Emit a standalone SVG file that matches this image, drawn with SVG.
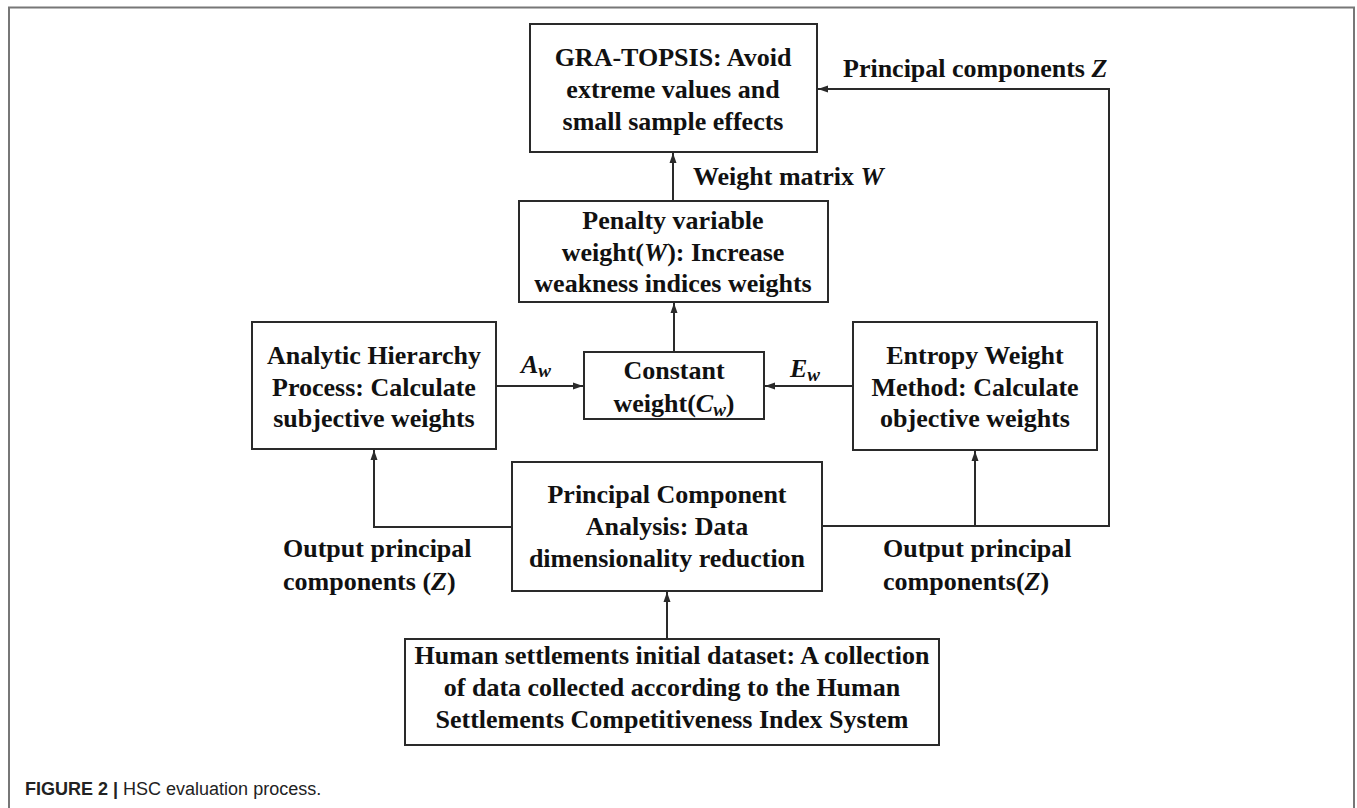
<svg xmlns="http://www.w3.org/2000/svg" width="1357" height="808" viewBox="0 0 1357 808">
<style>
.box{fill:#fff;stroke:#2a2a2a;stroke-width:2}
.t{font-family:"Liberation Serif","Times New Roman",serif;font-weight:bold;font-size:26px;fill:#111;text-anchor:middle}
.l{font-family:"Liberation Serif","Times New Roman",serif;font-weight:bold;font-size:26px;fill:#111}
.m{font-style:italic}
.sub{font-style:italic;font-size:19px}
.c{fill:none;stroke:#2a2a2a;stroke-width:2}
.frame{fill:none;stroke:#777;stroke-width:2}
.cap{font-family:"Liberation Sans",Arial,sans-serif;font-size:18px;fill:#222}
</style>
<defs>
<marker id="ah" markerUnits="userSpaceOnUse" markerWidth="10" markerHeight="10" viewBox="0 0 10 10" refX="10" refY="5" orient="auto">
<path d="M0,1.5 L10,5 L0,8.5 Z" fill="#2a2a2a"/>
</marker>
</defs>
<rect width="1357" height="808" fill="#fff"/>
<path class="frame" d="M9,808 V7.5 H1354 V808"/>

<g id="connectors">
<path class="c" d="M822,526 H1109 V89 H818" marker-end="url(#ah)"/>
<path class="c" d="M975,526 V451" marker-end="url(#ah)"/>
<path class="c" d="M512,527 H374 V450" marker-end="url(#ah)"/>
<path class="c" d="M667,639 V592" marker-end="url(#ah)"/>
<path class="c" d="M674,352 V303" marker-end="url(#ah)"/>
<path class="c" d="M673,201 V153" marker-end="url(#ah)"/>
<path class="c" d="M496,386 H583" marker-end="url(#ah)"/>
<path class="c" d="M853,386 H765" marker-end="url(#ah)"/>
</g>

<g id="gra">
<rect class="box" x="530" y="24" width="287" height="128"/>
<text class="t" x="673" y="66">GRA-TOPSIS: Avoid</text>
<text class="t" x="673" y="98">extreme values and</text>
<text class="t" x="673" y="130">small sample effects</text>
</g>

<g id="penalty">
<rect class="box" x="519" y="201" width="309" height="101"/>
<text class="t" x="673" y="229">Penalty variable</text>
<text class="t" x="673" y="261">weight(<tspan class="m">W</tspan>): Increase</text>
<text class="t" x="673" y="292">weakness indices weights</text>
</g>

<g id="ahp">
<rect class="box" x="252" y="322" width="244" height="127"/>
<text class="t" x="374" y="364">Analytic Hierarchy</text>
<text class="t" x="374" y="396">Process: Calculate</text>
<text class="t" x="374" y="427">subjective weights</text>
</g>

<g id="constant">
<rect class="box" x="584" y="352" width="180" height="67"/>
<text class="t" x="674" y="379">Constant</text>
<text class="t" x="674" y="412">weight(<tspan class="m">C</tspan><tspan class="sub" dy="4">w</tspan><tspan dy="-4">)</tspan></text>
</g>

<g id="entropy">
<rect class="box" x="853" y="322" width="244" height="128"/>
<text class="t" x="975" y="364">Entropy Weight</text>
<text class="t" x="975" y="396">Method: Calculate</text>
<text class="t" x="975" y="427">objective weights</text>
</g>

<g id="pca">
<rect class="box" x="512" y="462" width="310" height="129"/>
<text class="t" x="667" y="503">Principal Component</text>
<text class="t" x="667" y="535">Analysis: Data</text>
<text class="t" x="667" y="567">dimensionality reduction</text>
</g>

<g id="human">
<rect class="box" x="405" y="639" width="534" height="106"/>
<text class="t" x="672" y="664">Human settlements initial dataset: A collection</text>
<text class="t" x="672" y="696">of data collected according to the Human</text>
<text class="t" x="672" y="728">Settlements Competitiveness Index System</text>
</g>

<g id="labels">
<text class="l" x="843" y="77">Principal components <tspan class="m">Z</tspan></text>
<text class="l" x="693" y="185">Weight matrix <tspan class="m">W</tspan></text>
<text class="l" x="521" y="373"><tspan class="m">A</tspan><tspan class="sub" dy="4">w</tspan></text>
<text class="l" x="790" y="377"><tspan class="m">E</tspan><tspan class="sub" dy="4">w</tspan></text>
<text class="l" x="283" y="557">Output principal</text>
<text class="l" x="283" y="590">components (<tspan class="m">Z</tspan>)</text>
<text class="l" x="883" y="557">Output principal</text>
<text class="l" x="883" y="590">components(<tspan class="m">Z</tspan>)</text>
</g>

<text class="cap" x="25" y="795"><tspan font-weight="bold">FIGURE 2 |</tspan> HSC evaluation process.</text>
</svg>
